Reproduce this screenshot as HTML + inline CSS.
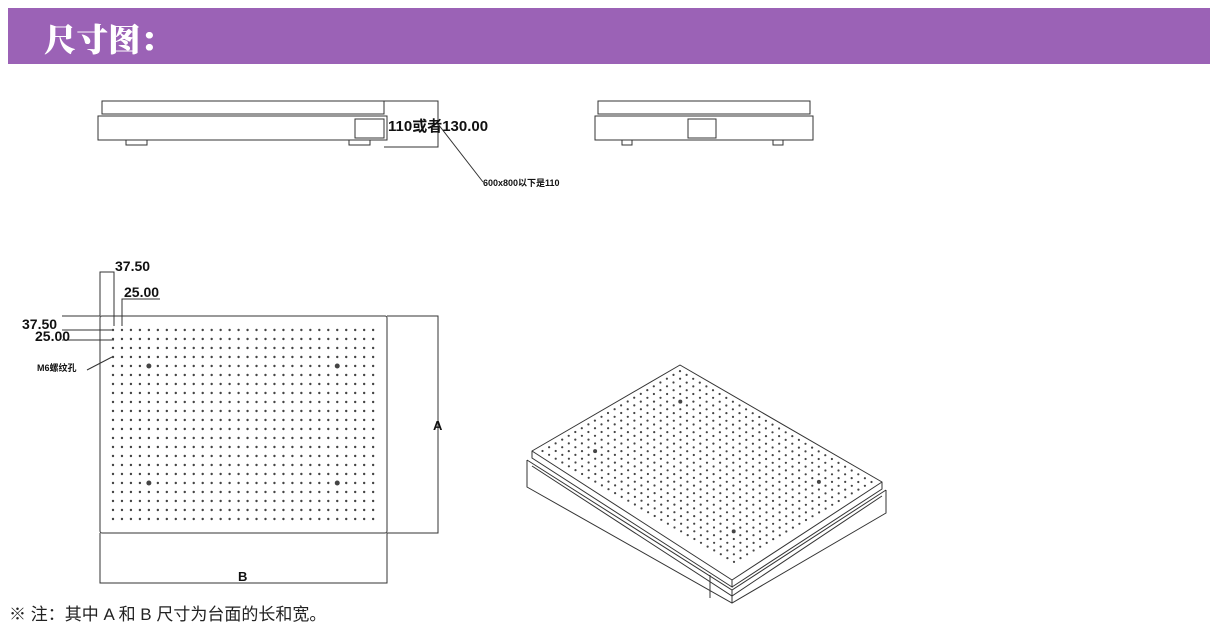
<!DOCTYPE html>
<html><head><meta charset="utf-8"><style>
body{margin:0;width:1219px;height:633px;background:#fff;overflow:hidden;position:relative;font-family:"Liberation Sans","Noto Sans CJK SC",sans-serif}
#hd{position:absolute;left:8px;top:8px;width:1202px;height:56px;background:#9b62b6}
#hd span{position:absolute;left:36px;top:7px;color:#fff;font:900 32px "Noto Serif CJK SC",serif;text-shadow:0.5px 0 #fff}
svg{position:absolute;left:0;top:0}
</style></head><body>
<div id="hd"><span>尺寸图：</span></div>
<svg width="1219" height="633" viewBox="0 0 1219 633" font-family="Liberation Sans, Noto Sans CJK SC, sans-serif">
<g fill="none" stroke="#333" stroke-width="1">
<rect x="102" y="101" width="282" height="13"/>
<rect x="98" y="116" width="289" height="24"/>
<rect x="355" y="119" width="29" height="19"/>
<path d="M126 140v5h21v-5M349 140v5h21v-5"/>
<path d="M384 101h54v46h-54M438 124l45 58"/>
<rect x="598" y="101" width="212" height="13"/>
<rect x="595" y="116" width="218" height="24"/>
<rect x="688" y="119" width="28" height="19"/>
<path d="M622 140v5h10v-5M773 140v5h10v-5"/>
<rect x="100" y="316" width="287" height="217" rx="2"/>
<path d="M387 316h51v217h-51M100 533v50h287v-50"/>
<path d="M100 316v-44h14v44M114 316v10M122 326v-27h38M62 316h38M62 330h52M62 340h52M87 370l25-13"/>
<path d="M680 365L882 482L732 580L532 451Z" stroke-linejoin="round"/>
<path d="M532 451v7L732 587V580M732 587L882 489V482"/>
<path d="M527 460L732 590L886 490M527 460v27L732 603L886 513V490M532 466L732 596L882 496M710 575v23M732 590v13"/>
</g>
<g id="dots" fill="#444"></g>
<g font-weight="bold" fill="#111">
<text x="388" y="131" font-size="15">110或者130.00</text>
<text x="483" y="186" font-size="9">600x800以下是110</text>
<text x="115" y="271" font-size="14">37.50</text>
<text x="124" y="297" font-size="14">25.00</text>
<text x="22" y="329" font-size="14">37.50</text>
<text x="35" y="341" font-size="14">25.00</text>
<text x="37" y="371" font-size="9">M6螺纹孔</text>
<text x="433" y="430" font-size="13">A</text>
<text x="238" y="581" font-size="13">B</text>
</g>
<text x="9" y="620" font-size="17" fill="#222">※ 注：其中 A 和 B 尺寸为台面的长和宽。</text>
</svg>
<script>
var g=document.getElementById('dots'),s='';
for(var r=0;r<22;r++)for(var c=0;c<30;c++){var x=113+c*8.97,y=330+r*9;
var big=(c==4||c==25)&&(r==4||r==17);
s+='<circle cx="'+x+'" cy="'+y+'" r="'+(big?2.5:1.2)+'"/>';}
for(var i=0;i<30;i++)for(var j=0;j<22;j++){var u=(i+0.8)/30.6,v=(j+0.8)/22.6;
var x=680+(882-680)*u+(532-680)*v,y=365+(482-365)*u+(451-365)*v;
var big=(i==4||i==25)&&(j==4||j==17);
s+='<circle cx="'+x.toFixed(1)+'" cy="'+y.toFixed(1)+'" r="'+(big?2:1.1)+'"/>';}
g.innerHTML=s;
</script>
</body></html>
